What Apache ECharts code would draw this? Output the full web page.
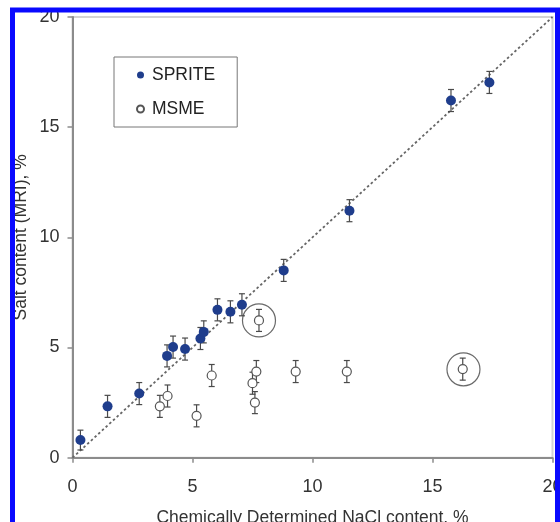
<!DOCTYPE html>
<html>
<head>
<meta charset="utf-8">
<script src="https://cdn.jsdelivr.net/npm/echarts@6/dist/echarts.min.js"></script>
<style>
html,body{margin:0;padding:0;background:#fff;}
#chart{width:560px;height:522px;}
</style>
</head>
<body>
<div id="chart"></div>
<script>
// ---- data ----
const axisTicks = [0, 5, 10, 15, 20];
const spriteX = [0.33, 1.46, 2.78, 3.94, 4.19, 4.69, 5.33, 5.47, 6.04, 6.58, 7.06, 8.80, 11.54, 15.77, 17.37];
const spriteY = [0.80, 2.33, 2.91, 4.62, 5.02, 4.93, 5.41, 5.71, 6.71, 6.62, 6.94, 8.50, 11.21, 16.21, 17.03];
const spriteErr = [0.45, 0.5, 0.5, 0.5, 0.5, 0.5, 0.5, 0.5, 0.5, 0.5, 0.5, 0.5, 0.5, 0.5, 0.5];
const msmeX = [3.64, 3.96, 5.17, 5.80, 7.50, 7.66, 7.60, 7.77, 9.30, 11.43, 16.26];
const msmeY = [2.33, 2.80, 1.90, 3.73, 3.38, 3.91, 2.50, 6.23, 3.91, 3.91, 4.02];
const msmeErr = [0.5, 0.5, 0.5, 0.5, 0.5, 0.5, 0.5, 0.5, 0.5, 0.5, 0.5];
const circledX = [7.77, 16.29];
const circledY = [6.23, 4.01];
const identityLine = [[0, 0], [20, 20]];

const zip3 = (a, b, c) => a.map((v, i) => [v, b[i], c ? c[i] : 0]);

function errRender(params, api) {
  const x = api.value(0), y = api.value(1), e = api.value(2);
  const t = api.coord([x, y + e]);
  const b = api.coord([x, y - e]);
  const w = 3;
  const st = { stroke: '#4a4a4a', lineWidth: 1.2 };
  return {
    type: 'group',
    children: [
      { type: 'line', shape: { x1: t[0], y1: t[1], x2: b[0], y2: b[1] }, style: st },
      { type: 'line', shape: { x1: t[0] - w, y1: t[1], x2: t[0] + w, y2: t[1] }, style: st },
      { type: 'line', shape: { x1: b[0] - w, y1: b[1], x2: b[0] + w, y2: b[1] }, style: st }
    ]
  };
}

const font = 'Liberation Sans, Arial, sans-serif';
const chart = echarts.init(document.getElementById('chart'));
chart.setOption({
  animation: false,
  backgroundColor: '#ffffff',
  textStyle: { fontFamily: font },
  grid: {
    left: 72.5, right: 7.5, top: 17, bottom: 64.3,
    containLabel: false, outerBoundsMode: 'none',
    show: true, borderColor: '#d4d4d4', borderWidth: 2, backgroundColor: '#fff'
  },
  legend: {
    orient: 'vertical',
    left: 114, top: 57,
    padding: [9, 22, 9, 22],
    itemWidth: 7, itemHeight: 7,
    itemGap: 16,
    borderColor: '#777', borderWidth: 1,
    data: [
      { name: 'SPRITE', icon: 'circle' },
      { name: 'MSME', icon: 'circle' }
    ],
    textStyle: { fontSize: 17.5, color: '#222', fontFamily: font, lineHeight: 18, padding: [0, 0, 0, 3] }
  },
  xAxis: {
    type: 'value',
    min: axisTicks[0], max: axisTicks[axisTicks.length - 1], interval: 5,
    name: 'Chemically Determined NaCl content, %',
    nameLocation: 'middle', nameGap: 51, nameMoveOverlap: false,
    nameTextStyle: { fontSize: 17.5, color: '#333', fontFamily: font },
    axisLine: { lineStyle: { color: '#8c8c8c', width: 2 } },
    axisTick: { show: true, length: 5, lineStyle: { color: '#8c8c8c', width: 1.5 } },
    axisLabel: { fontSize: 18, color: '#333', margin: 20, fontFamily: font },
    splitLine: { show: false }
  },
  yAxis: {
    type: 'value',
    min: axisTicks[0], max: axisTicks[axisTicks.length - 1], interval: 5,
    name: 'Salt content (MRI), %',
    nameLocation: 'middle', nameGap: 42, nameMoveOverlap: false,
    nameTextStyle: { fontSize: 17.5, color: '#333', fontFamily: font },
    axisLine: { show: true, lineStyle: { color: '#8c8c8c', width: 2 } },
    axisTick: { show: true, length: 5, lineStyle: { color: '#8c8c8c', width: 1.5 } },
    axisLabel: { fontSize: 18, color: '#333', margin: 13, fontFamily: font },
    splitLine: { show: false }
  },
  series: [
    {
      name: 'identity', type: 'line', data: identityLine, symbol: 'none',
      lineStyle: { color: '#666', width: 1.8, type: [2.5, 2.5] }, z: 1, silent: true
    },
    {
      name: 'spriteErr', type: 'custom', renderItem: errRender,
      data: zip3(spriteX, spriteY, spriteErr), z: 2, silent: true
    },
    {
      name: 'msmeErr', type: 'custom', renderItem: errRender,
      data: zip3(msmeX, msmeY, msmeErr), z: 2, silent: true
    },
    {
      name: 'SPRITE', type: 'scatter', symbol: 'circle', symbolSize: 10,
      data: spriteX.map((x, i) => [x, spriteY[i]]),
      itemStyle: { color: '#1f3d8c', opacity: 1 }, z: 3
    },
    {
      name: 'MSME', type: 'scatter', symbol: 'circle', symbolSize: 9,
      data: msmeX.map((x, i) => [x, msmeY[i]]),
      itemStyle: { color: '#ffffff', borderColor: '#555', borderWidth: 1.2, opacity: 1 }, z: 3
    },
    {
      name: 'circled', type: 'scatter', symbol: 'circle', symbolSize: 33,
      data: circledX.map((x, i) => [x, circledY[i]]),
      itemStyle: { color: 'rgba(0,0,0,0)', borderColor: '#444', borderWidth: 1.2 }, z: 4, silent: true
    }
  ],
  graphic: [
    {
      type: 'rect', z: 100, silent: true,
      shape: { x: 12.5, y: 10, width: 545, height: 600 },
      style: { fill: 'none', stroke: '#0a0aff', lineWidth: 5 }
    }
  ]
});
</script>
</body>
</html>
